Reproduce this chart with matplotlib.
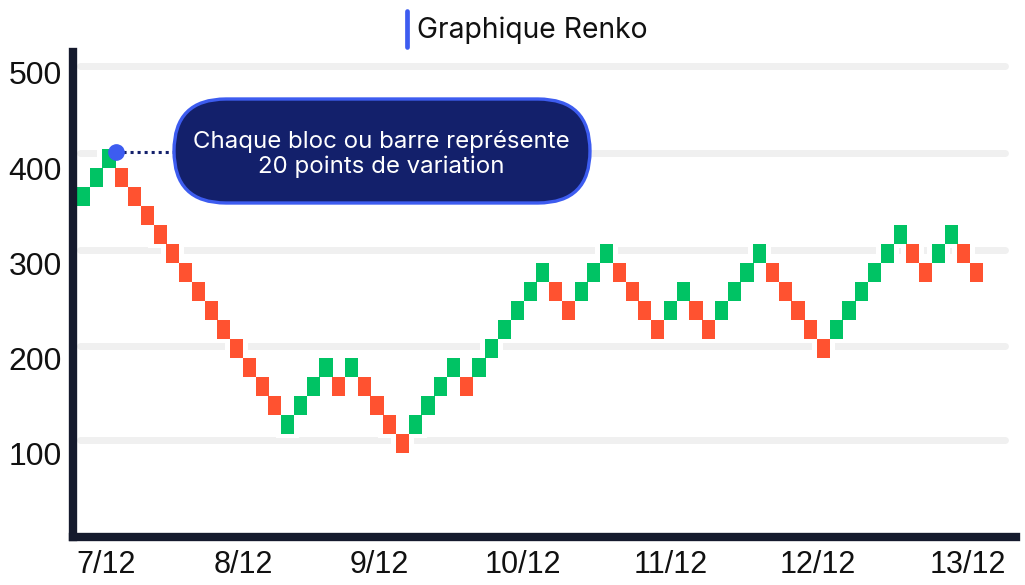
import matplotlib
matplotlib.use('Agg')
import matplotlib.pyplot as plt
from matplotlib.patches import FancyBboxPatch, Rectangle
from matplotlib.lines import Line2D
from matplotlib.transforms import IdentityTransform

# Renko bricks, 20 points each: bottom of every brick, left to right
brick_low = ([360, 380, 400] +
             [380, 360, 340, 320, 300, 280, 260, 240, 220, 200, 180, 160, 140] +
             [120, 140, 160, 180] + [160] + [180] +
             [160, 140, 120, 100] +
             [120, 140, 160, 180] + [160] +
             [180, 200, 220, 240, 260, 280] + [260, 240] +
             [260, 280, 300] + [280, 260, 240, 220] +
             [240, 260] + [240, 220] +
             [240, 260, 280, 300] + [280, 260, 240, 220, 200] +
             [220, 240, 260, 280, 300, 320] + [300, 280] +
             [300, 320] + [300, 280])
# u = rising brick (green), d = falling brick (red)
brick_dir = ("uuu" + "d" * 13 + "uuuu" + "d" + "u" + "dddd" + "uuuu" + "d" +
             "uuuuuu" + "dd" + "uuu" + "dddd" + "uu" + "dd" + "uuuu" +
             "ddddd" + "uuuuuu" + "dd" + "uu" + "dd")
brick_size = 20

dates = ['7/12', '8/12', '9/12', '10/12', '11/12', '12/12', '13/12']
date_pos = [2.27, 13.0, 23.7, 34.95, 46.55, 58.06, 69.8]
yticks = [100, 200, 300, 400, 500]
grid_levels = [114, 213, 314, 416, 507]

title = 'Graphique Renko'
note = 'Chaque bloc ou barre représente\n20 points de variation'

GREEN = '#00c364'
RED = '#ff5230'
NAVY = '#13206b'
BLUE = '#3d5cf0'
AXIS = '#151a2d'
TXT = '#111111'

W, H = 1025, 585
fig = plt.figure(figsize=(W / 100, H / 100), dpi=100)
ax = fig.add_axes([73 / W, (H - 537) / H, (1016 - 73) / W, (537 - 52) / H])
ax.set_xlim(-0.31, 73.6)
ax.set_ylim(11.6, 522.1)

# grid lines
for g in grid_levels:
    ax.plot([0.24, 72.7], [g, g], color='#f0f0f0', lw=5,
            solid_capstyle='round', zorder=1)

# white halo under the bricks (cuts the grid lines)
for i, low in enumerate(brick_low):
    ax.add_patch(Rectangle((i - 0.4, low - 4), 1.8, brick_size + 8,
                           facecolor='white', edgecolor='none', zorder=2))

colors = [GREEN if d == 'u' else RED for d in brick_dir]
ax.bar(range(len(brick_low)), [brick_size] * len(brick_low), width=1.03,
       bottom=brick_low, align='edge', color=colors, zorder=3)

# marker on the top brick and dotted leader to the note
top_i = brick_low.index(max(brick_low))
dot_x, dot_y = top_i + 1.05, max(brick_low) + brick_size - 3
ax.plot([dot_x, 8.0], [dot_y, dot_y], color='white', lw=7, zorder=4)
ax.plot([dot_x, 8.0], [dot_y, dot_y], color=NAVY, lw=2.2,
        linestyle=(0, (1, 1.3)), zorder=5)
ax.plot([dot_x], [dot_y], 'o', color=BLUE, markersize=11, zorder=6)

for side in ['top', 'right']:
    ax.spines[side].set_visible(False)
for side in ['left', 'bottom']:
    ax.spines[side].set_linewidth(6)
    ax.spines[side].set_color(AXIS)
    ax.spines[side].set_capstyle('projecting')
ax.spines['left'].set_zorder(7)
ax.spines['bottom'].set_zorder(7)

ax.set_yticks(yticks)
ax.set_yticklabels([str(t) for t in yticks])
ax.set_xticks(date_pos)
ax.set_xticklabels(dates)
ax.tick_params(axis='both', length=0, labelsize=22, labelcolor=TXT)
ax.tick_params(axis='y', pad=8, labelsize=23)
ax.tick_params(axis='x', pad=9.5)
for lab in ax.get_xticklabels() + ax.get_yticklabels():
    lab.set_family('Liberation Sans')

# note bubble, in pixel coordinates
px = IdentityTransform()
bubble = FancyBboxPatch((174, H - 203), 416, 104,
                        boxstyle='round,pad=0,rounding_size=52',
                        facecolor=NAVY, edgecolor=BLUE, linewidth=2.4,
                        transform=px, zorder=10)
fig.add_artist(bubble)
line1, line2 = note.split('\n')
fig.text(381, H - 148, line1, transform=px, ha='center', va='baseline',
         color='white', fontsize=17.3, family='Inter', zorder=11)
fig.text(381, H - 173, line2, transform=px, ha='center', va='baseline',
         color='white', fontsize=17.3, family='Inter', zorder=11)

# title with blue bar
fig.add_artist(Line2D([407, 407], [H - 11, H - 47], color=BLUE, lw=3.4,
                      solid_capstyle='round', transform=px))
fig.text(417, H - 38, title, transform=px, ha='left', va='baseline',
         color=TXT, fontsize=20.4, family='Inter')

fig.savefig('out.png', dpi=100, facecolor='white')
